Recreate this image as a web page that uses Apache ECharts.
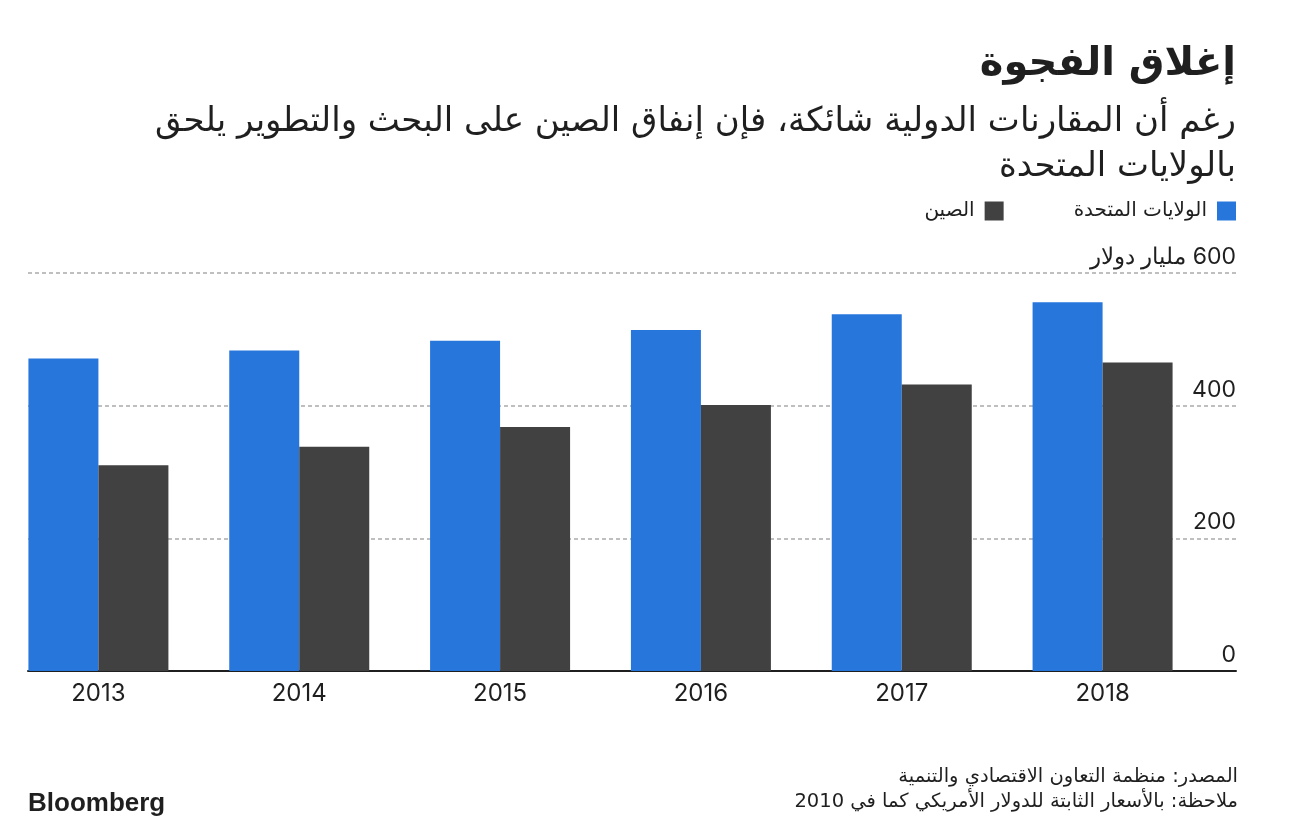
<!DOCTYPE html>
<html lang="ar">
<head>
<meta charset="utf-8">
<script src="https://cdn.jsdelivr.net/npm/echarts@6/dist/echarts.min.js"></script>
<style>
html,body{margin:0;padding:0;background:#fff;}
#chart{width:1297px;height:829px;}
</style>
</head>
<body>
<div id="chart"></div>
<script>
const years = ['2013', '2014', '2015', '2016', '2017', '2018'];
const usSpend = [471, 483, 498, 514, 538, 556];
const chinaSpend = [310, 338, 368, 401, 432, 465];
const yTickValues = [0, 200, 400, 600];
const yUnit = 'مليار دولار';
const seriesNames = ['الولايات المتحدة', 'الصين'];
const titleText = 'إغلاق الفجوة';
const subtitleLines = ['رغم أن المقارنات الدولية شائكة، فإن إنفاق الصين على البحث والتطوير يلحق', 'بالولايات المتحدة'];
const footerLines = ['المصدر: منظمة التعاون الاقتصادي والتنمية', 'ملاحظة: بالأسعار الثابتة للدولار الأمريكي كما في 2010'];

const AR = '"DejaVu Sans", "Noto Sans", sans-serif';
const NUM = 'Inter, "Liberation Sans", Arial, sans-serif';
const LOGO = '"Liberation Sans", Arial, sans-serif';
const BLUE = '#2676dc';
const GRAY = '#414141';
const INK = '#1f1f1f';

const chart = echarts.init(document.getElementById('chart'), null, {renderer: 'canvas'});
chart.setOption({
  animation: false,
  backgroundColor: '#fff',
  graphic: [
    {type: 'text', x: 1236, y: 45, style: {text: titleText, align: 'right', verticalAlign: 'top',
      fontFamily: AR, fontWeight: 'bold', fontSize: 40, fill: INK}},
    {type: 'text', x: 1236, y: 100, style: {text: subtitleLines.join('\n'), align: 'right', verticalAlign: 'top',
      fontFamily: AR, fontWeight: 'normal', fontSize: 34, lineHeight: 45, fill: INK}},
    {type: 'text', x: 1238, y: 764, style: {text: footerLines.join('\n'), align: 'right', verticalAlign: 'top',
      fontFamily: AR, fontWeight: 'normal', fontSize: 19.5, lineHeight: 25, fill: INK}},
    {type: 'text', x: 28, y: 791, style: {text: 'Bloomberg', align: 'left', verticalAlign: 'top',
      fontFamily: LOGO, fontWeight: 'bold', fontSize: 26, fill: INK}}
  ],
  legend: {
    data: [seriesNames[1], seriesNames[0]],
    right: 61, top: 201, padding: 0, align: 'right', orient: 'horizontal',
    icon: 'rect', itemWidth: 19, itemHeight: 19, itemGap: 70,
    textStyle: {fontFamily: AR, fontSize: 20, color: INK, padding: [0, 5, 0, 0]}
  },
  grid: [
    {left: -2, width: 1205, top: 273, bottom: 158, containLabel: false, outerBoundsMode: 'none'},
    {left: 28, right: 61, top: 273, bottom: 158, containLabel: false, outerBoundsMode: 'none'}
  ],
  xAxis: [
    {type: 'category', gridIndex: 0, data: years,
     axisLine: {show: false}, axisTick: {show: false},
     axisLabel: {fontFamily: NUM, fontSize: 24, color: INK, margin: 11}},
    {type: 'value', gridIndex: 1, min: 0, max: 1,
     axisLine: {show: true, onZero: false, lineStyle: {color: INK, width: 2}},
     axisTick: {show: false}, axisLabel: {show: false}, splitLine: {show: false}}
  ],
  yAxis: [
    {type: 'value', gridIndex: 0, min: 0, max: 600, interval: 200, show: false},
    {type: 'value', gridIndex: 1, position: 'right', min: 0, max: 600, interval: 200,
     axisLine: {show: false}, axisTick: {show: false},
     axisLabel: {inside: true, margin: 0, verticalAlign: 'bottom', lineHeight: 20, padding: [0, 0, 6, 0],
       fontFamily: NUM, fontSize: 23, color: INK,
       formatter: function (v) {
         return yTickValues.indexOf(v) === yTickValues.length - 1 ? '\u200F' + v + ' ' + yUnit : String(v);
       }},
     splitLine: {show: true, lineStyle: {color: '#aaaaaa', width: 1.5, type: [4, 3]}}}
  ],
  series: [
    {name: seriesNames[0], type: 'bar', xAxisIndex: 0, yAxisIndex: 0, data: usSpend,
     barWidth: 70, barGap: '0%', itemStyle: {color: BLUE}},
    {name: seriesNames[1], type: 'bar', xAxisIndex: 0, yAxisIndex: 0, data: chinaSpend,
     barWidth: 70, barGap: '0%', itemStyle: {color: GRAY}}
  ]
});
</script>
</body>
</html>
